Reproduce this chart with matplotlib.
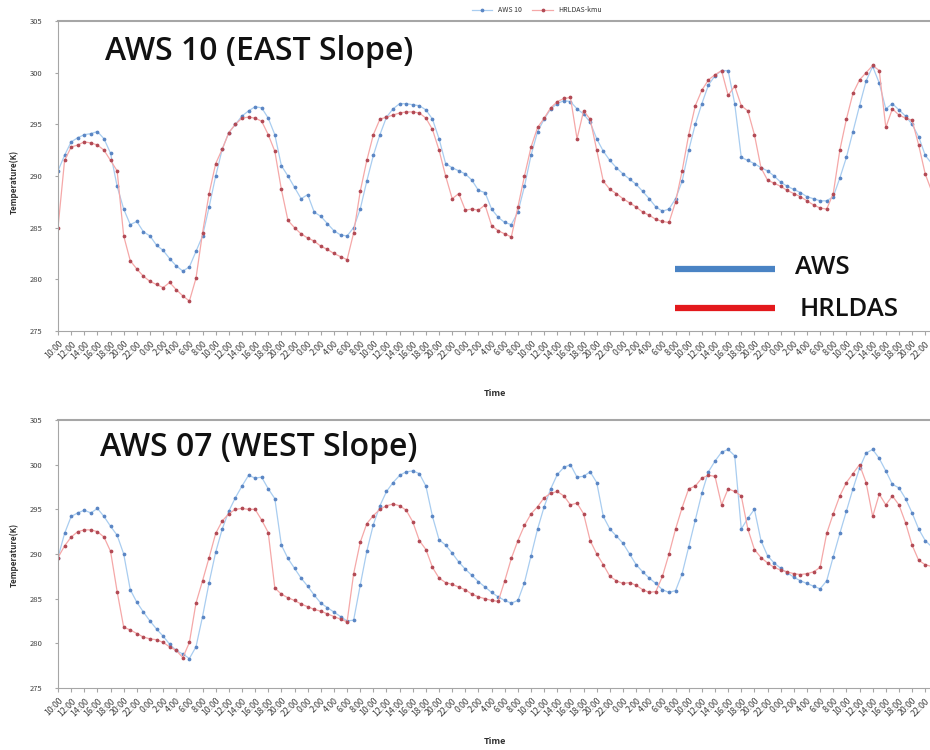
import matplotlib
matplotlib.use("Agg")
import matplotlib.pyplot as plt
from matplotlib.lines import Line2D

plt.rcParams['font.family'] = ['Noto Sans CJK KR', 'DejaVu Sans']

# hourly series, first value at 10:00
start_hour = 10

aws10 = [290.5, 292, 293.3, 293.7, 294, 294.1, 294.3, 293.6, 292.2, 289,
         286.8, 285.3, 285.6, 284.6, 284.2, 283.3, 282.8, 282, 281.3, 280.8,
         281.2, 282.7, 284.2, 287, 290, 292.6, 294.2, 295, 295.8, 296.3,
         296.7, 296.6, 295.6, 294, 291, 290, 288.9, 287.8, 288.2, 286.5,
         286.1, 285.4, 284.7, 284.3, 284.2, 285, 286.8, 289.5, 292, 294,
         295.7, 296.5, 297, 297, 296.9, 296.8, 296.4, 295.5, 293.6, 291.2,
         290.8, 290.5, 290.2, 289.6, 288.6, 288.4, 286.8, 286, 285.5, 285.3,
         286.5, 289, 292, 294.3, 295.5, 296.5, 297, 297.3, 297.2, 296.5,
         296, 295.2, 293.6, 292.4, 291.5, 290.8, 290.2, 289.7, 289.2, 288.5,
         287.8, 287, 286.6, 286.8, 287.8, 289.5, 292.5, 295, 297, 298.8,
         299.7, 300.2, 300.2, 297, 291.8, 291.5, 291.2, 290.8, 290.5, 290,
         289.4, 289, 288.7, 288.4, 288, 287.8, 287.6, 287.6, 288, 289.8,
         291.8, 294.3, 296.8, 299.2, 300.6, 299, 296.5, 297, 296.4, 295.8,
         295, 293.8, 292, 291.2]

hrldas10 = [285, 291.5, 292.8, 293, 293.3, 293.2, 293, 292.5, 291.5, 290.5,
            284.2, 281.8, 281, 280.3, 279.8, 279.5, 279.2, 279.7, 279, 278.4,
            277.9, 280.1, 284.5, 288.3, 291.2, 292.6, 294.2, 295, 295.6, 295.7,
            295.6, 295.3, 294, 292.4, 288.7, 285.7, 285, 284.4, 284, 283.7,
            283.2, 282.9, 282.5, 282.2, 281.9, 284.5, 288.5, 291.5, 294, 295.5,
            295.7, 295.9, 296.1, 296.2, 296.2, 296.1, 295.6, 294.5, 292.5, 290,
            287.8, 288.3, 286.7, 286.8, 286.7, 287.2, 285.2, 284.7, 284.4, 284.1,
            287, 290, 292.8, 294.7, 295.6, 296.6, 297.2, 297.5, 297.6, 293.6,
            296.3, 295.5, 292.5, 289.5, 288.7, 288.3, 287.8, 287.4, 287, 286.5,
            286.2, 285.8, 285.6, 285.5, 287.5, 290.5, 294, 296.8, 298.3, 299.3,
            299.8, 300.2, 297.8, 298.7, 296.8, 296.3, 294, 290.8, 289.6, 289.3,
            289, 288.6, 288.3, 288, 287.6, 287.2, 286.9, 286.8, 288.3, 292.5,
            295.5, 298, 299.3, 300, 300.7, 300.2, 294.7, 296.5, 295.9, 295.6,
            295.4, 293, 290.2, 288.5]

aws07 = [289.6, 292.3, 294.2, 294.6, 294.9, 294.6, 295.1, 294.2, 293.1, 292.1,
         290, 286, 284.6, 283.5, 282.5, 281.6, 280.8, 279.9, 279.2, 278.8,
         278.3, 279.6, 283, 286.8, 290.2, 292.8, 294.8, 296.3, 297.6, 298.8,
         298.5, 298.6, 297.3, 296.2, 291, 289.5, 288.4, 287.3, 286.4, 285.4,
         284.5, 284, 283.5, 283, 282.5, 282.6, 286.5, 290.3, 293.3, 295.4,
         297, 298, 298.8, 299.2, 299.3, 299, 297.6, 294.2, 291.6, 291,
         290.1, 289.1, 288.3, 287.6, 286.9, 286.3, 285.7, 285.2, 284.8, 284.5,
         284.8, 286.8, 289.8, 292.8, 295.3, 297.3, 298.9, 299.7, 300, 298.6,
         298.7, 299.2, 298, 294.2, 292.8, 292, 291.2, 290, 288.8, 288,
         287.3, 286.7, 286, 285.7, 285.9, 287.8, 290.8, 293.8, 296.8, 299.2,
         300.4, 301.4, 301.7, 301, 292.8, 294, 295, 291.5, 289.8, 289,
         288.4, 287.9, 287.4, 287, 286.7, 286.4, 286.1, 287, 289.7, 292.3,
         294.8, 297.3, 299.6, 301.3, 301.7, 300.7, 299.3, 297.8, 297.4, 296.2,
         294.6, 292.8, 291.5, 290.8]

hrldas07 = [289.6, 290.9, 291.9, 292.5, 292.7, 292.7, 292.5, 291.9, 290.3, 285.8,
            281.8, 281.5, 281.1, 280.7, 280.5, 280.4, 280.1, 279.6, 279.2, 278.4,
            280.1, 284.5, 287, 289.6, 292.3, 293.7, 294.5, 295, 295.1, 295,
            295, 293.8, 292.4, 286.2, 285.5, 285.1, 284.8, 284.4, 284.1, 283.8,
            283.6, 283.3, 283, 282.7, 282.4, 287.8, 291.3, 293.4, 294.3, 295,
            295.4, 295.6, 295.4, 294.9, 293.6, 291.5, 290.5, 288.5, 287.3, 286.8,
            286.6, 286.3, 286, 285.5, 285.2, 285, 284.8, 284.7, 287, 289.5,
            291.5, 293.2, 294.5, 295.3, 296.3, 296.8, 297, 296.5, 295.5, 295.7,
            294.5, 291.5, 290, 288.8, 287.5, 287, 286.7, 286.8, 286.5, 286,
            285.7, 285.8, 287.5, 290, 292.8, 295.2, 297.3, 297.6, 298.5, 298.8,
            298.7, 295.5, 297.3, 297, 296.5, 292.8, 290.5, 289.6, 289, 288.5,
            288.2, 288, 287.8, 287.7, 287.8, 288, 288.5, 292.3, 294.5, 296.5,
            298, 299, 300, 298, 294.2, 296.7, 295.5, 296.5, 295.5, 293.5,
            291, 289.3, 288.8, 288.6]

hours = list(range(len(aws10)))
tick_pos = hours[0:133:2]
tick_labels = [f"{(start_hour + h) % 24}:00" for h in tick_pos]
y_ticks = [275, 280, 285, 290, 295, 300, 305]

W, H = 930, 750
fig = plt.figure(figsize=(W / 100, H / 100), dpi=100)
ax1 = fig.add_axes([58 / W, 1 - 331 / H, 873.8 / W, 310 / H])
ax2 = fig.add_axes([58 / W, 1 - 688 / H, 873.8 / W, 268 / H])

grey = '#a6a6a6'
for ax, aws, hr, ylab_y, xlab_y in [(ax1, aws10, hrldas10, 182, 393),
                                    (ax2, aws07, hrldas07, 555, 742)]:
    ax.plot(hours, aws, color='#a9cdf0', lw=0.9, marker='o', ms=1.7,
            mfc='#5b86c4', mec='#5b86c4', label='AWS 10')
    ax.plot(hours, hr, color='#f5a8a8', lw=0.9, marker='o', ms=1.7,
            mfc='#b24a55', mec='#b24a55', label='HRLDAS-kmu')
    ax.set_xlim(0, 133)
    ax.set_ylim(275, 305)
    ax.set_yticks(y_ticks)
    ax.set_yticklabels([str(v) for v in y_ticks], fontsize=5.5, color='#404040')
    ax.set_xticks(tick_pos)
    ax.set_xticklabels(tick_labels, rotation=45, ha='right',
                       rotation_mode='anchor', fontsize=6.3, color='#404040')
    ax.tick_params(axis='x', length=3, color=grey, pad=3)
    ax.tick_params(axis='y', length=2, color=grey, pad=9)
    ax.spines['right'].set_visible(False)
    for s in ['left', 'bottom']:
        ax.spines[s].set_color(grey)
        ax.spines[s].set_linewidth(0.8)
    ax.spines['top'].set_color(grey)
    ax.spines['top'].set_linewidth(1.5)
    fig.text(14 / W, 1 - ylab_y / H, 'Temperature(K)', rotation=90,
             fontsize=5.8, fontweight='bold', color='#303030',
             ha='center', va='center')
    fig.text(495 / W, 1 - xlab_y / H, 'Time', fontsize=6.5, fontweight='bold',
             color='#303030', ha='center', va='center')

handles, labels = ax1.get_legend_handles_labels()
fig.legend(handles, labels, loc='center', bbox_to_anchor=(537 / W, 1 - 10 / H),
           ncol=2, frameon=False, fontsize=5, handlelength=3, columnspacing=1.5,
           labelcolor='#303030')

title_font = ['Open Sans', 'DejaVu Sans']
fig.text(105 / W, 1 - 52 / H, 'AWS 10 (EAST Slope)', fontsize=23,
         family=title_font, fontweight='semibold', ha='left', va='center',
         color='#111111')
fig.text(100 / W, 1 - 447 / H, 'AWS 07 (WEST Slope)', fontsize=23,
         family=title_font, fontweight='semibold', ha='left', va='center',
         color='#111111')

fig.add_artist(Line2D([675 / W, 775 / W], [1 - 269 / H] * 2, lw=4.5,
                      color='#4a83c4', solid_capstyle='butt'))
fig.add_artist(Line2D([675 / W, 775 / W], [1 - 308 / H] * 2, lw=4.5,
                      color='#e3191c', solid_capstyle='butt'))
fig.text(795 / W, 1 - 268 / H, 'AWS', fontsize=18.5, family=title_font,
         fontweight='semibold', ha='left', va='center', color='#111111')
fig.text(800 / W, 1 - 310 / H, 'HRLDAS', fontsize=18.5, family=title_font,
         fontweight='semibold', ha='left', va='center', color='#111111')

fig.savefig('out.png', dpi=100)
